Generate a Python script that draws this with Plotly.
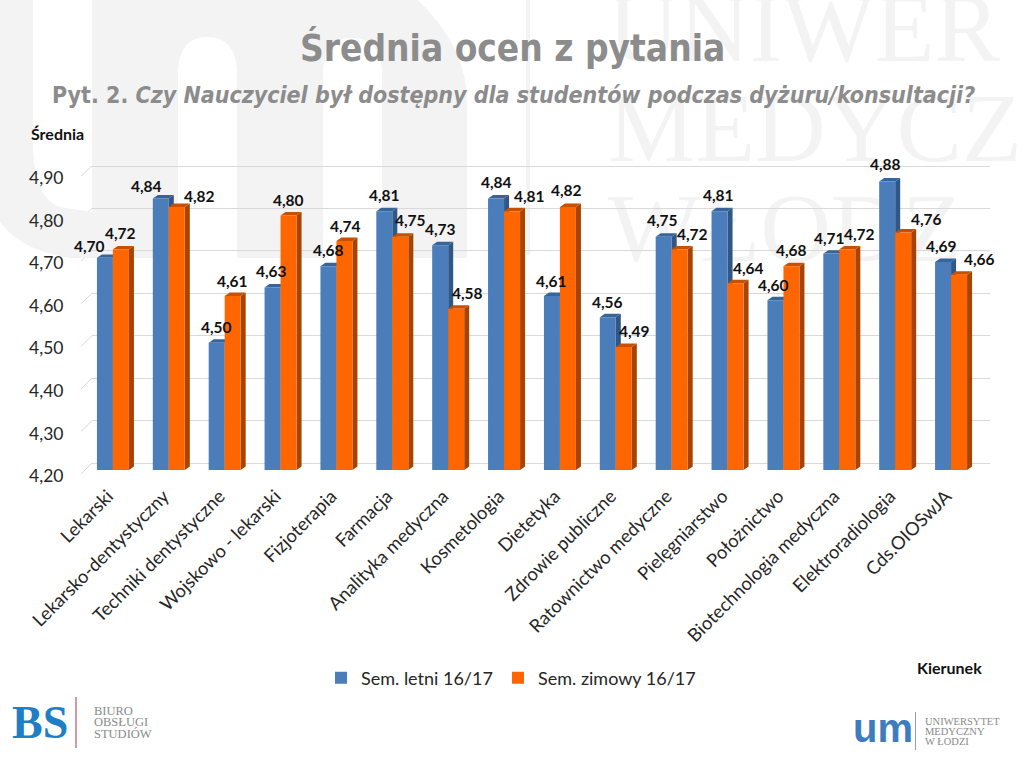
import plotly.graph_objects as go

categories = ["Lekarski", "Lekarsko-dentystyczny", "Techniki dentystyczne", "Wojskowo - lekarski",
              "Fizjoterapia", "Farmacja", "Analityka medyczna", "Kosmetologia", "Dietetyka",
              "Zdrowie publiczne", "Ratownictwo medyczne", "Pielęgniarstwo", "Położnictwo",
              "Biotechnologia medyczna", "Elektroradiologia", "Cds.OIOSwJA"]
sem_letni = [4.70, 4.84, 4.50, 4.63, 4.68, 4.81, 4.73, 4.84, 4.61, 4.56, 4.75, 4.81, 4.60, 4.71, 4.88, 4.69]
sem_zimowy = [4.72, 4.82, 4.61, 4.80, 4.74, 4.75, 4.58, 4.81, 4.82, 4.49, 4.72, 4.64, 4.68, 4.72, 4.76, 4.66]
tick_values = [4.2, 4.3, 4.4, 4.5, 4.6, 4.7, 4.8, 4.9]
series_names = ["Sem. letni 16/17", "Sem. zimowy 16/17"]
watermark_lines = ["UNIWER", "MEDYCZ", "WŁODZ"]

W, H = 1024, 768
LO, HI = 4.2, 4.9
FONT = "Lato"
COND = "DejaVu Sans Condensed"
GREY = "#8c8c8c"
WM = "#f3f3f3"
GRID = "#d9d9d9"

def dx_dom(a, b): return [a / W, b / W]
def dy_dom(bottom, top): return [1 - bottom / H, 1 - top / H]

# px placement of the three depth planes of the fake-3D chart
FRONT = (474, 176)   # slanted tick front ends
LABELS = (476, 178)  # tick labels
BAR = (470, 173)     # bar fronts
BACK = (463, 166)    # back wall gridlines
X_BAR = (85, 979)
pitch = (X_BAR[1] - X_BAR[0]) / 16
bar_w = 16 / pitch
depth_x = 5 / pitch
unit = (HI - LO) / (BAR[0] - BAR[1])  # data per px
depth_y = 3.5 * unit
grid_pad = 0.02  # keeps the end gridlines off the axis ends
grid_px = grid_pad * (BACK[0] - BACK[1]) / (HI - LO)

fig = go.Figure()

# background subplot in page pixels
fig.add_trace(go.Scatter(
    x=[608, 608, 608], y=[36, 136, 236], text=watermark_lines,
    mode="text", textposition="middle right", hoverinfo="skip", showlegend=False,
    textfont=dict(family="Liberation Serif", size=98, color=WM), xaxis="x", yaxis="y"))

# carrier traces for the wall grid and the tick-label axis
fig.add_trace(go.Scatter(x=[0], y=[LO], mode="markers", marker=dict(opacity=0), hoverinfo="skip",
                         showlegend=False, xaxis="x2", yaxis="y2"))
fig.add_trace(go.Scatter(x=[0], y=[LO], mode="markers", marker=dict(opacity=0), hoverinfo="skip",
                         showlegend=False, xaxis="x2", yaxis="y3"))

BLUE, BLUE_SIDE, BLUE_TOP = "#4b7dbb", "#2f5788", "#376597"
ORG, ORG_SIDE, ORG_TOP = "#ff6600", "#a84300", "#c85000"

fig.add_trace(go.Bar(name=series_names[0], x=categories, y=[v - LO for v in sem_letni], base=LO, legend="legend",
                     marker=dict(color=BLUE, line_width=0), xaxis="x3", yaxis="y4", hoverinfo="skip"))
fig.add_trace(go.Bar(name=series_names[1], x=categories, y=[v - LO for v in sem_zimowy], base=LO, legend="legend2",
                     marker=dict(color=ORG, line_width=0), xaxis="x3", yaxis="y4", hoverinfo="skip"))

shapes = []
def poly(pts, color, xref="x3", yref="y4", layer="below"):
    d = "M" + " L".join(f"{a:.4f},{b:.4f}" for a, b in pts) + " Z"
    return dict(type="path", path=d, xref=xref, yref=yref, fillcolor=color, line_width=0, layer=layer)

for series, off, side, top in ((sem_letni, -bar_w, BLUE_SIDE, BLUE_TOP), (sem_zimowy, 0, ORG_SIDE, ORG_TOP)):
    for i, v in enumerate(series):
        l, r = i + off, i + off + bar_w
        shapes.append(poly([(r, LO), (r + depth_x, LO + depth_y), (r + depth_x, v + depth_y), (r, v)], side))
        shapes.append(poly([(l, v), (l + depth_x, v + depth_y), (r + depth_x, v + depth_y), (r, v)], top))

# slanted side-wall ticks
def plane_y(plane, t):
    return plane[0] + (t - LO) / (HI - LO) * (plane[1] - plane[0])
for t in tick_values:
    shapes.append(dict(type="line", xref="x", yref="y", x0=81, x1=92, y0=plane_y(FRONT, t), y1=plane_y(BACK, t),
                       line=dict(color=GRID, width=1), layer="below"))

# watermark "um"
def bg_path(d, color=WM):
    return dict(type="path", path=d, xref="x", yref="y", fillcolor=color, line_width=0, layer="below")
shapes.append(bg_path("M0,0 L33,0 L33,150 Q36,200 60,207 L92,212 L92,0 L418,0 Q470,50 467,110 L467,258 L382,258 L382,70 "
                      "Q380,38 352,38 Q325,38 323,70 L323,258 L237,258 L237,70 Q235,37 207,37 Q180,37 178,70 L178,258 L70,258 "
                      "Q20,250 0,222 Z"))
shapes.append(dict(type="rect", xref="x", yref="y", x0=526, x1=530, y0=0, y1=255, fillcolor=WM, line_width=0, layer="below"))

# logo rule lines
shapes.append(dict(type="rect", xref="x", yref="y", x0=75.5, x1=76.5, y0=697, y1=748, fillcolor="#a83a4a", line_width=0))
shapes.append(dict(type="rect", xref="x", yref="y", x0=915, x1=916, y0=712, y1=750, fillcolor="#a99a9a", line_width=0))

label_dx_1 = [-15, -14, 0, -1, 0, 0, 0, 0, 0, 0, -1, -1, -2, -2, -2, -2]
label_dy_1 = [12, 12, 16, 17, 16, 16, 16, 16, 15, 15, 17, 16, 15, 16, 17, 16]
label_dx_2 = [0, 23, 0, 0, 1, 10, 11, 17, -1, 11, 13, 13, 0, 12, 23, 20]
label_dy_2 = [16, 11, 15, 15, 15, 17, 16, 15, 17, 16, 15, 15, 16, 15, 13, 16]

ann = []
for series, off, dxs, dys in ((sem_letni, -8, label_dx_1, label_dy_1), (sem_zimowy, 8, label_dx_2, label_dy_2)):
    for c, v, dx, dy in zip(categories, series, dxs, dys):
        ann.append(dict(x=c, y=v, xref="x3", yref="y4", text="<b>" + f"{v:.2f}".replace(".", ",") + "</b>", showarrow=False,
                        xshift=off + dx, yshift=dy, font=dict(family=FONT, size=15.5, color="#111111"),
                        xanchor="center", yanchor="middle"))

def page_text(x, y, text, size, color, family=FONT, anchor="center"):
    ann.append(dict(x=x, y=y, xref="x", yref="y", text=text, showarrow=False, xanchor=anchor, yanchor="middle",
                    font=dict(family=family, size=size, color=color)))

page_text(512, 48, "<b>Średnia ocen z pytania</b>", 36.7, GREY, COND)
page_text(513, 95, "<b>Pyt. 2. <i>Czy Nauczyciel był dostępny dla studentów podczas dyżuru/konsultacji?</i></b>", 23, GREY, COND)
page_text(57, 133, "<b>Średnia</b>", 16, "#111111")
page_text(949, 667, "<b>Kierunek</b>", 16, "#111111")
page_text(40, 722, "<b>BS</b>", 46, "#1f7fc4", "Liberation Serif")
page_text(92, 711, "BIURO", 12.5, "#8a8a8a", "Liberation Serif", "left")
page_text(92, 722, "OBSŁUGI", 12.5, "#8a8a8a", "Liberation Serif", "left")
page_text(92, 734, "STUDIÓW", 12.5, "#8a8a8a", "Liberation Serif", "left")
page_text(883, 728, "<b>um</b>", 40, "#3d7dbf", "Liberation Sans")
page_text(923, 721, "UNIWERSYTET", 10.5, "#8a8a8a", "Liberation Serif", "left")
page_text(923, 731, "MEDYCZNY", 10.5, "#8a8a8a", "Liberation Serif", "left")
page_text(923, 741, "W ŁODZI", 10.5, "#8a8a8a", "Liberation Serif", "left")

def legend_at(px):
    return dict(orientation="h", x=px / W, xanchor="left", y=1 - 678 / H, yanchor="middle",
                font=dict(family=FONT, size=18, color="#262626"), bgcolor="rgba(0,0,0,0)")

hidden = dict(visible=False, fixedrange=True, automargin=False)
fig.update_layout(
    template="none",
    width=W, height=H, autosize=False, margin=dict(l=0, r=0, t=0, b=0, pad=0),
    paper_bgcolor="white", plot_bgcolor="rgba(0,0,0,0)",
    separators=", ", barmode="group", bargap=1 - 2 * bar_w, bargroupgap=0,
    xaxis=dict(hidden, domain=[0, 1], range=[0, W]),
    yaxis=dict(hidden, domain=[0, 1], range=[H, 0]),
    xaxis2=dict(hidden, domain=dx_dom(92, 990), range=[0, 1], anchor="y2"),
    yaxis2=dict(domain=dy_dom(BACK[0] + grid_px, BACK[1] - grid_px), range=[LO - grid_pad, HI + grid_pad], anchor="x2",
                tickvals=tick_values, showgrid=True, automargin=False,
                gridcolor=GRID, gridwidth=1, zeroline=False, showline=False, showticklabels=False, ticks="", fixedrange=True),
    yaxis3=dict(domain=dy_dom(*LABELS), range=[LO, HI], anchor="free", position=63.5 / W, side="left", automargin=False,
                tickvals=tick_values, tickformat=".2f", showgrid=False, zeroline=False, showline=False, ticks="",
                tickfont=dict(family=FONT, size=17.5, color="#262626"), fixedrange=True),
    xaxis3=dict(domain=dx_dom(*X_BAR), range=[-0.5, 15.5], anchor="y4", type="category", categoryorder="array", automargin=False,
                categoryarray=categories, showgrid=False, showline=False, ticks="", tickangle=-45,
                ticklabelstandoff=11, ticklabelshift=-5,
                tickfont=dict(family=FONT, size=18.4, color="#262626"), fixedrange=True),
    yaxis4=dict(hidden, domain=dy_dom(*BAR), range=[LO, HI], anchor="x3"),
    legend=legend_at(321),
    legend2=legend_at(498),
    shapes=shapes, annotations=ann,
)
fig.write_html("out.html", post_script="document.body.style.margin='0';", config={"displayModeBar": False})
